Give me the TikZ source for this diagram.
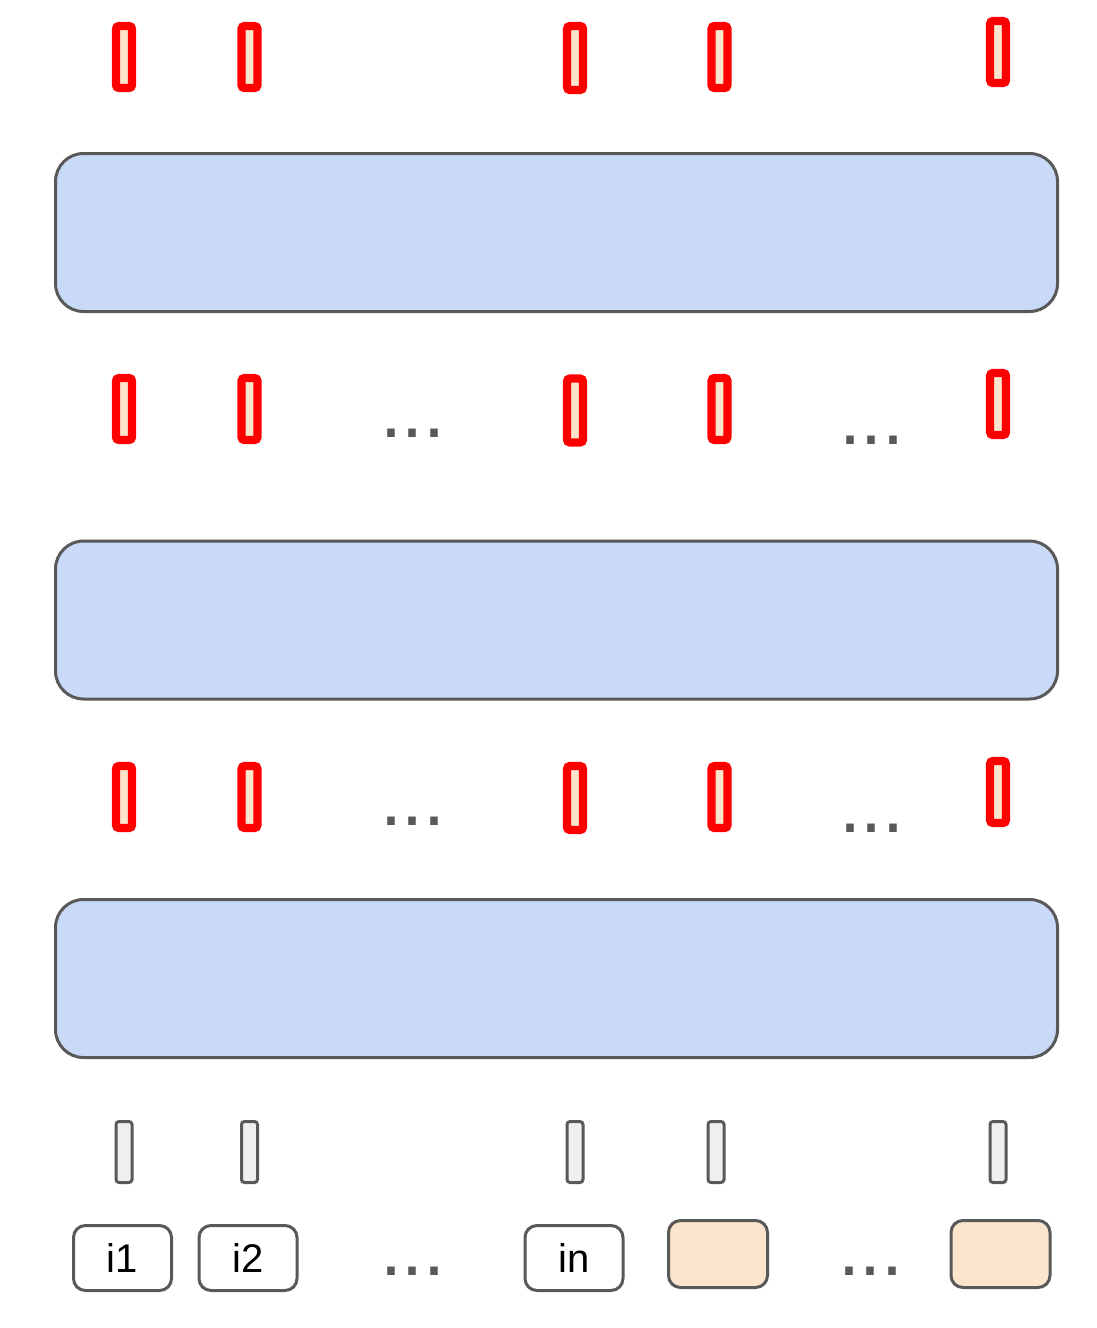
\documentclass[tikz,border=0pt]{standalone}
\usepackage{fontspec}
\setmainfont{Liberation Sans}
\definecolor{bluefill}{HTML}{C9DAF8}
\definecolor{beige}{HTML}{FCE5CD}
\definecolor{grayfill}{HTML}{EFEFEF}
\definecolor{edge}{HTML}{595959}
\definecolor{redline}{HTML}{FF0000}
\begin{document}
\begin{tikzpicture}[x=1pt,y=-1pt,
  layerbox/.style={draw=edge,line width=3pt,fill=bluefill,rounded corners=28pt,
    minimum width=1002pt,minimum height=158pt,inner sep=0pt},
  outbar/.style={draw=redline,line width=8.2pt,fill=beige,rounded corners=3pt,
    minimum width=16pt,minimum height=62pt,inner sep=0pt},
  inbar/.style={draw=edge,line width=3pt,fill=grayfill,rounded corners=3pt,
    minimum width=16pt,minimum height=61pt,inner sep=0pt},
  tokbox/.style={draw=edge,line width=3pt,fill=white,rounded corners=12pt,
    minimum width=98pt,minimum height=65pt,inner sep=0pt,
    font=\fontsize{40}{48}\selectfont},
  padbox/.style={draw=edge,line width=3pt,fill=beige,rounded corners=12pt,
    minimum width=99pt,minimum height=67pt,inner sep=0pt},
  dotstext/.style={anchor=base west,inner sep=0pt,text=edge,
    font=\fontsize{79}{80}\selectfont}]
\useasboundingbox (0,0) rectangle (1096,1328);
% top output bars
\node[outbar] (r1a) at (124,57) {};
\node[outbar] (r1b) at (249.5,57) {};
\node[outbar,minimum height=64pt] (r1c) at (575,58) {};
\node[outbar] (r1d) at (719.5,57) {};
\node[outbar] (r1e) at (998,52) {};
% layer 1
\node[layerbox] (L1) at (556.5,232.5) {};
% row 2
\node[outbar] (r2a) at (124,409) {};
\node[outbar] (r2b) at (249.5,409) {};
\node[outbar,minimum height=64pt] (r2c) at (575,410.5) {};
\node[outbar] (r2d) at (719.5,409) {};
\node[outbar] (r2e) at (998,404) {};
\node[dotstext] (d2l) at (379.8,437) {...};
\node[dotstext] (d2r) at (838.8,444) {...};
% layer 2
\node[layerbox] (L2) at (556.5,620) {};
% row 3
\node[outbar] (r3a) at (124,797) {};
\node[outbar] (r3b) at (249.5,797) {};
\node[outbar,minimum height=64pt] (r3c) at (575,798) {};
\node[outbar] (r3d) at (719.5,797) {};
\node[outbar] (r3e) at (998,792) {};
\node[dotstext] (d3l) at (379.8,825) {...};
\node[dotstext] (d3r) at (838.8,832) {...};
% layer 3
\node[layerbox] (L3) at (556.5,978.5) {};
% input bars
\node[inbar] (g1) at (124,1152) {};
\node[inbar] (g2) at (249.5,1152) {};
\node[inbar] (g3) at (575,1152) {};
\node[inbar] (g4) at (716,1152) {};
\node[inbar] (g5) at (998,1152) {};
% tokens
\node[tokbox] (t1) at (122.5,1258) {i1};
\node[tokbox] (t2) at (248,1258) {i2};
\node[tokbox] (tn) at (574,1258) {in};
\node[padbox] (p1) at (718,1254) {};
\node[padbox] (p2) at (1000.5,1254) {};
\node[dotstext] (d4l) at (379.8,1275) {...};
\node[dotstext] (d4r) at (837.8,1275) {...};
\end{tikzpicture}
\end{document}
